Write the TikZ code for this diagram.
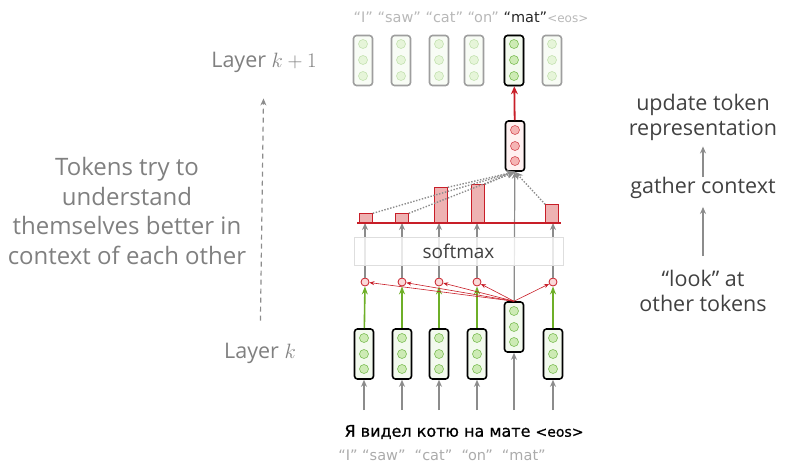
\documentclass[tikz,border=0pt]{standalone}
\usepackage{fontspec}
\setmainfont{Open Sans}
\newfontfamily\tokfont{DejaVu Sans}
\newfontfamily\tokbold[FakeBold=0.8]{DejaVu Sans}
\usetikzlibrary{arrows.meta}
\definecolor{txtgray}{RGB}{128,128,128}
\definecolor{darktxt}{RGB}{65,65,65}
\definecolor{arrgray}{RGB}{140,140,140}
\definecolor{vecgreen}{RGB}{125,190,85}
\definecolor{cellgreen}{RGB}{205,235,180}
\definecolor{boxgreen}{RGB}{243,250,238}
\definecolor{linered}{RGB}{200,30,40}
\definecolor{cellred}{RGB}{245,180,180}
\definecolor{boxred}{RGB}{255,241,241}
\definecolor{barred}{RGB}{238,178,178}
\definecolor{arrgreen}{RGB}{110,175,40}

\begin{document}
\begin{tikzpicture}[x=1pt,y=1pt,yscale=-1,
  vecbox/.style={draw=black,line width=1.6pt,rounded corners=3pt,minimum width=19pt,minimum height=50pt,inner sep=0pt,fill=boxgreen},
  fadedbox/.style={vecbox,draw=black!38,fill=boxgreen!60},
  cell/.style={circle,draw=vecgreen,fill=cellgreen,line width=0.6pt,minimum size=9pt,inner sep=0pt},
  fadedcell/.style={cell,draw=vecgreen!45,fill=cellgreen!50},
  redcell/.style={cell,draw=linered!80,fill=cellred},
  query/.style={circle,draw=linered,fill=cellred!50,line width=0.8pt,minimum size=8pt,inner sep=0pt},
  bar/.style={draw=linered,fill=barred,line width=0.7pt,minimum width=13pt,inner sep=0pt,anchor=south},
  grayarrow/.style={draw=arrgray,line width=1.2pt,-{Stealth[length=7pt,width=6pt]}},
  greenarrow/.style={draw=arrgreen,line width=1.6pt,-{Stealth[length=8pt,width=6pt]}},
  redarrow/.style={draw=linered,line width=0.6pt,-{Stealth[length=5pt,width=4pt]}},
  dotarrow/.style={draw=arrgray,line width=1.4pt,dash pattern=on 1.4pt off 1.6pt,-{Stealth[length=8pt,width=7pt]}},
  sidetext/.style={font=\fontsize{21.5}{25}\selectfont,text=darktxt,align=center,inner sep=2pt},
  graytext/.style={font=\fontsize{21.5}{23}\selectfont,text=txtgray,inner sep=2pt},
  ]
\useasboundingbox (0,0) rectangle (790,472);

% Layer k vectors
\foreach \i/\x/\y in {1/364/354,2/402/354,3/439/354,4/477/354,5/514/327,6/553/354}{
  \node[vecbox] (bot\i) at (\x,\y) {};
  \node[cell] (bot\i-a) at (\x,\y-16) {};
  \node[cell] (bot\i-b) at (\x,\y) {};
  \node[cell] (bot\i-c) at (\x,\y+15) {};
  \coordinate (in\i) at (\x,410);
}
\foreach \i in {1,...,6}
  \draw[grayarrow] (in\i) -- (bot\i);

% queries
\foreach \i/\x in {1/365,2/402,3/439,4/477,6/553}{
  \node[query] (q\i) at (\x,282) {};
  \draw[greenarrow] (bot\i) -- (q\i);
}

% weights line
\coordinate (baseL) at (357,223);
\coordinate (baseR) at (561,223);
\foreach \i in {1,2,3,4,6}
  \draw[grayarrow] (q\i) -- (q\i |- baseL);

% context vector
\node[vecbox,fill=boxred] (ctx) at (515,146) {};
\node[redcell] (ctx-a) at (515,130) {};
\node[redcell] (ctx-b) at (515,146) {};
\node[redcell] (ctx-c) at (515,161) {};
\draw[grayarrow] (bot5) -- (ctx);

% softmax
\node[draw=black!13,fill=white,fill opacity=0.8,text opacity=1,minimum width=209pt,minimum height=28pt,font=\fontsize{19}{21}\selectfont,text=darktxt] (softmax) at (458.5,251) {softmax};

% "look" at other tokens
\foreach \i in {1,2,3,4,6}
  \draw[redarrow] (bot5.north) -- (q\i);

% attention weights
\foreach \i/\x/\h in {1/366/9,2/402/9,3/441/35,4/478/38,6/552/18}
  \node[bar,minimum height=\h] (bar\i) at (\x,223) {};
\draw[draw=linered,line width=1.2pt] (baseL) -- (baseR);
\foreach \i in {1,2,3,4}
  \draw[dotarrow] (bar\i.north east) -- (ctx.south);
\draw[dotarrow] (bar6.north west) -- (ctx.south);

% Layer k+1 vectors
\foreach \i/\x in {1/363,2/401,3/439,4/474,5/514,6/552}{
  \node[fadedbox] (top\i) at (\x,60.5) {};
  \node[fadedcell] (top\i-a) at (\x,44) {};
  \node[fadedcell] (top\i-b) at (\x,60) {};
  \node[fadedcell] (top\i-c) at (\x,76) {};
}
\node[vecbox] (top5) at (514,60.5) {};
\node[cell] (top5-a) at (514,44) {};
\node[cell] (top5-b) at (514,60) {};
\node[cell] (top5-c) at (514,76) {};
\draw[draw=linered,line width=1.8pt,-{Stealth[length=8pt,width=7pt]}] (ctx) -- (top5);

% Text Node
\node[font=\tokfont\fontsize{14.5}{16}\selectfont,text=black!28] (toptok) at (471,17) {“I” “saw” “cat” “on” \textcolor{black!85}{“mat”}{\fontsize{12}{14}\selectfont<eos>}};
% Text Node
\node[font=\tokbold\fontsize{16}{18}\selectfont,text=black] (rutok) at (464,432) {Я видел котю на мате {\fontsize{14}{16}\selectfont<eos>}};
% Text Node
\node[font=\tokfont\fontsize{14.5}{16}\selectfont,text=black!33] (entok) at (442,455) {“I”\ “saw”\ \ “cat”\ \ “on”\ \ “mat”};

% Text Node
\node[graytext] (layerk1) at (264,62) {Layer $k+1$};
% Text Node
\node[graytext] (layerk) at (260,353) {Layer $k$};
\draw[draw=arrgray,line width=1.2pt,dash pattern=on 5pt off 4pt,-{Stealth[length=7pt,width=6pt]},shorten <=20pt,shorten >=24pt] (layerk) -- (layerk1);
% Text Node
\node[font=\fontsize{24}{29.5}\selectfont,text=txtgray,align=center] (claim) at (127,211) {Tokens try to\\understand\\themselves better in\\context of each other};

% Text Node
\node[sidetext] (update) at (703,117) {update token\\representation};
% Text Node
\node[sidetext] (gather) at (703,188) {gather context};
% Text Node
\node[sidetext] (look) at (703,291) {“look” at\\other tokens};
\draw[grayarrow,shorten <=-2pt,shorten >=4pt] (gather) -- (update);
\draw[grayarrow,shorten <=12pt,shorten >=6pt] (look) -- (gather);

\end{tikzpicture}
\end{document}
